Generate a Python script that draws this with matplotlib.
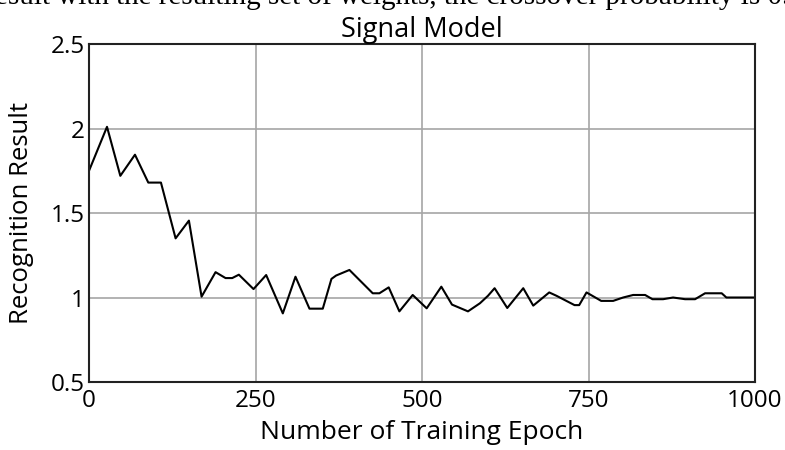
import matplotlib
matplotlib.use('Agg')
import matplotlib.pyplot as plt

# values
epoch = [0, 27, 47, 69, 89, 108, 130, 150, 169, 190, 205, 215, 225, 247,
         266, 291, 310, 331, 351, 364, 371, 391, 426, 436, 450, 466, 486,
         507, 529, 545, 569, 587, 599, 609, 628, 652, 667, 691, 702, 729,
         736, 747, 769, 787, 802, 817, 835, 846, 862, 877, 895, 910, 925,
         950, 957, 1000]
result = [1.75, 2.01, 1.72, 1.845, 1.68, 1.68, 1.35, 1.455, 1.005, 1.15,
          1.115, 1.115, 1.135, 1.05, 1.133, 0.906, 1.123, 0.934, 0.934,
          1.11, 1.13, 1.163, 1.025, 1.025, 1.06, 0.918, 1.015, 0.936, 1.064,
          0.958, 0.918, 0.966, 1.01, 1.055, 0.938, 1.055, 0.952, 1.03, 1.01,
          0.955, 0.955, 1.03, 0.98, 0.98, 1.0, 1.015, 1.015, 0.99, 0.99,
          1.0, 0.99, 0.99, 1.025, 1.025, 1.0, 1.0]
xticks = [0, 250, 500, 750, 1000]
yticks = [0.5, 1, 1.5, 2, 2.5]
yticklabels = ['0.5', '1', '1.5', '2', '2.5']

plt.rcParams['font.family'] = ['Open Sans', 'DejaVu Sans']

fig = plt.figure(figsize=(7.85, 4.5), dpi=100)
ax = fig.add_axes([0.1134, 0.1511, 0.8484, 0.7511])

ax.plot(epoch, result, color='black', lw=1.5)
ax.set_xlim(0, 1000)
ax.set_ylim(0.5, 2.5)
ax.set_xticks(xticks)
ax.set_xticklabels([str(t) for t in xticks], fontsize=17.5)
ax.set_yticks(yticks)
ax.set_yticklabels(yticklabels, fontsize=17.5)
ax.tick_params(axis='x', length=0, pad=5)
ax.tick_params(axis='y', length=0, pad=3)
ax.grid(True, color='#a6a6a6', lw=1.2)
ax.set_axisbelow(True)
for s in ax.spines.values():
    s.set_linewidth(1.5)
    s.set_color('#222222')

ax.set_title('Signal Model', fontsize=19.5, pad=2)
ax.set_xlabel('Number of Training Epoch', fontsize=19, labelpad=5)
ax.set_ylabel('Recognition Result', fontsize=18.5, labelpad=12)

# clipped line of body text at the very top of the crop
fig.text(-0.006, 1 - 4 / 450, 'esult with the resulting set of weights, the crossover probability is 0.9',
         fontsize=21, family='Liberation Serif', va='baseline', ha='left')

fig.savefig('out.png', dpi=100)
